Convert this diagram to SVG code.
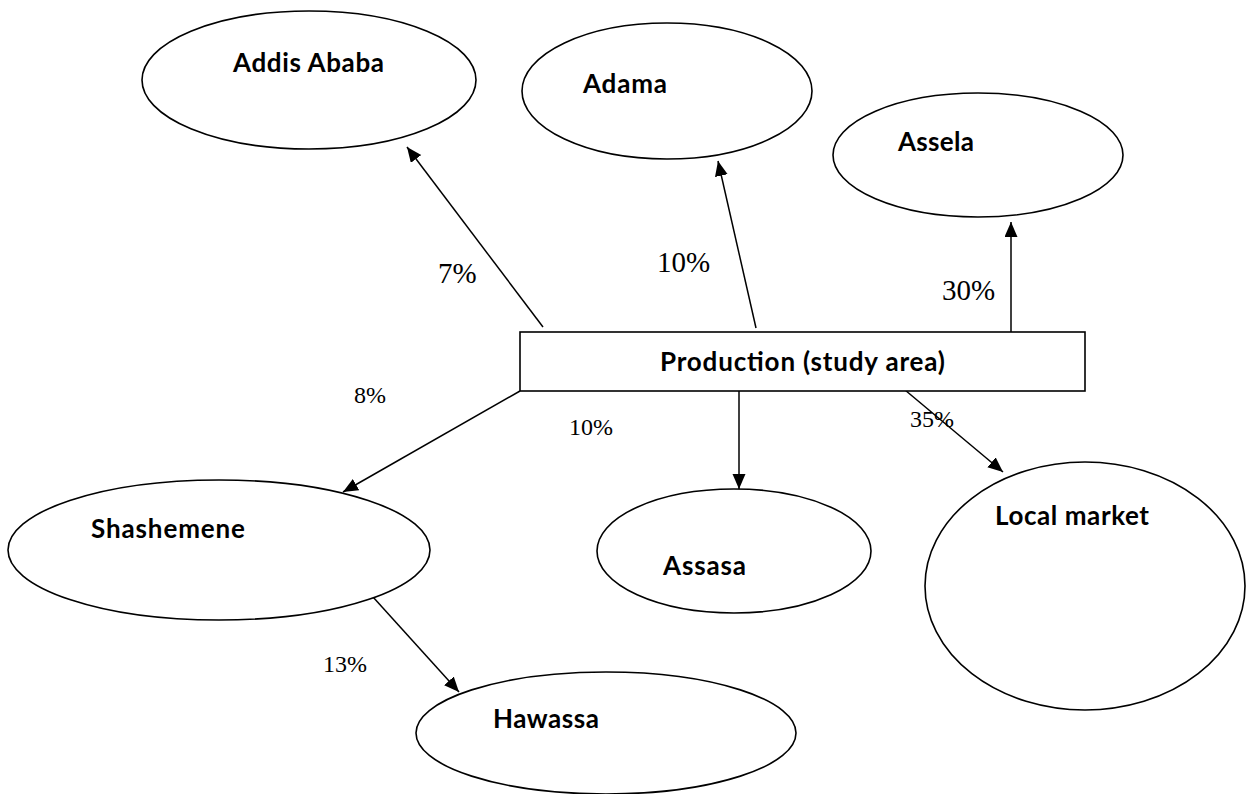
<svg xmlns="http://www.w3.org/2000/svg" width="1246" height="794" viewBox="0 0 1246 794">
  <style>
    .node { fill: #ffffff; stroke: #000000; stroke-width: 1.6; }
    .name { font-family: Lato, "Open Sans", "Liberation Sans", sans-serif; font-weight: bold; font-size: 26px; fill: #000000; }
    .pct { font-family: "Liberation Serif", "Times New Roman", serif; fill: #000000; }
    .big { font-size: 29px; }
    .small { font-size: 24px; }
    .link { stroke: #000000; stroke-width: 1.5; fill: none; marker-end: url(#head); }
  </style>
  <defs>
    <marker id="head" markerUnits="userSpaceOnUse" markerWidth="16" markerHeight="14" refX="15" refY="6.5" orient="auto">
      <path d="M0,0 L15,6.5 L0,13 Z" fill="#000000"/>
    </marker>
  </defs>

  <!-- flows out of the production area -->
  <g id="connectors">
    <line class="link" x1="543" y1="327" x2="407" y2="147"/>
    <line class="link" x1="756" y1="328" x2="718" y2="161"/>
    <line class="link" x1="1011" y1="332" x2="1011" y2="222"/>
    <line class="link" x1="520" y1="391" x2="343" y2="492"/>
    <line class="link" x1="739" y1="391" x2="739" y2="489"/>
    <line class="link" x1="905" y1="390" x2="1003" y2="472"/>
    <line class="link" x1="373" y1="597" x2="459" y2="692"/>
  </g>

  <g id="labels">
    <text class="pct big" x="438" y="283">7%</text>
    <text class="pct big" x="657" y="272">10%</text>
    <text class="pct big" x="942" y="300">30%</text>
    <text class="pct small" x="354" y="403">8%</text>
    <text class="pct small" x="569" y="435">10%</text>
    <text class="pct small" x="910" y="427">35%</text>
    <text class="pct small" x="323" y="672">13%</text>
  </g>

  <g id="production">
    <rect class="node" x="520" y="332" width="565" height="59"/>
    <text class="name" x="660" y="371" textLength="285">Production (study area)</text>
  </g>

  <g id="addis-ababa">
    <ellipse class="node" cx="309" cy="80" rx="167" ry="69"/>
    <text class="name" x="233" y="72" textLength="151">Addis Ababa</text>
  </g>

  <g id="adama">
    <ellipse class="node" cx="667" cy="91" rx="145" ry="68"/>
    <text class="name" x="583" y="93" textLength="84">Adama</text>
  </g>

  <g id="assela">
    <ellipse class="node" cx="978" cy="155" rx="145" ry="62"/>
    <text class="name" x="898" y="151" textLength="76">Assela</text>
  </g>

  <g id="shashemene">
    <ellipse class="node" cx="219" cy="550" rx="211" ry="70"/>
    <text class="name" x="91" y="538" textLength="154">Shashemene</text>
  </g>

  <g id="assasa">
    <ellipse class="node" cx="734" cy="551" rx="137" ry="62"/>
    <text class="name" x="663" y="575" textLength="83">Assasa</text>
  </g>

  <g id="local-market">
    <ellipse class="node" cx="1085" cy="586" rx="160" ry="124"/>
    <text class="name" x="995" y="525" textLength="154">Local market</text>
  </g>

  <g id="hawassa">
    <ellipse class="node" cx="606" cy="733" rx="190" ry="61"/>
    <text class="name" x="493" y="728" textLength="106">Hawassa</text>
  </g>
</svg>
